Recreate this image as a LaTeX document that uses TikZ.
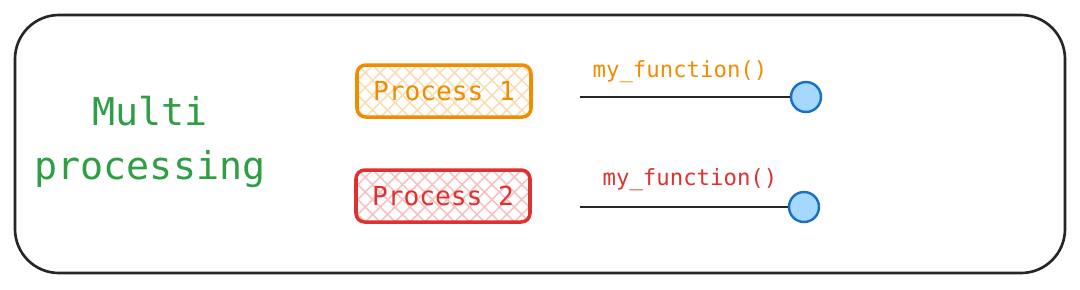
\documentclass[tikz,border=0pt]{standalone}
\usepackage{fontspec}
\setmonofont{DejaVu Sans Mono}
\usetikzlibrary{patterns.meta}

\definecolor{exgreen}{HTML}{2F9E44}
\definecolor{exorange}{HTML}{F08C00}
\definecolor{exred}{HTML}{E03131}
\definecolor{exblue}{HTML}{1971C2}
\definecolor{exlightblue}{HTML}{A5D8FF}

\begin{document}
\begin{tikzpicture}[x=0.02cm,y=-0.02cm,
    procbox/.style={draw=#1,line width=2pt,rounded corners=5pt,
        minimum width=174*0.02cm,minimum height=52*0.02cm,
        font=\ttfamily\fontsize{14.9}{18}\selectfont,text=#1,
        preaction={pattern={Lines[angle=45,distance=6pt,line width=0.9pt]},pattern color=#1!30},
        preaction={pattern={Lines[angle=-45,distance=6pt,line width=0.9pt]},pattern color=#1!30}},
    endpt/.style={circle,draw=exblue,fill=exlightblue,line width=1.4pt,
        minimum size=30*0.02cm,inner sep=0pt},
    funclabel/.style={font=\ttfamily\fontsize{12.7}{15}\selectfont,text=#1}]
    \useasboundingbox (0,0) rectangle (1080,289);
    \draw[line width=1.5pt,rounded corners=25pt,black!85] (15,15) rectangle (1065,273);

    \node[align=center,text=exgreen,font=\ttfamily\fontsize{21.8}{31}\selectfont] (title) at (150,142) {Multi\\processing};

    % processes
    \node[procbox=exorange] (proc1) at (444,91) {Process 1};
    \node[procbox=exred] (proc2) at (443,196) {Process 2};

    % function calls
    \coordinate (start1) at (580,97);
    \node[endpt] (end1) at (806,97) {};
    \draw[line width=1.5pt,black!85] (start1) -- (end1);
    \node[funclabel=exorange] (func1) at (680,72) {my\_function()};

    \coordinate (start2) at (580,207);
    \node[endpt] (end2) at (804,207) {};
    \draw[line width=1.5pt,black!85] (start2) -- (end2);
    \node[funclabel=exred] (func2) at (690,180) {my\_function()};
\end{tikzpicture}
\end{document}
